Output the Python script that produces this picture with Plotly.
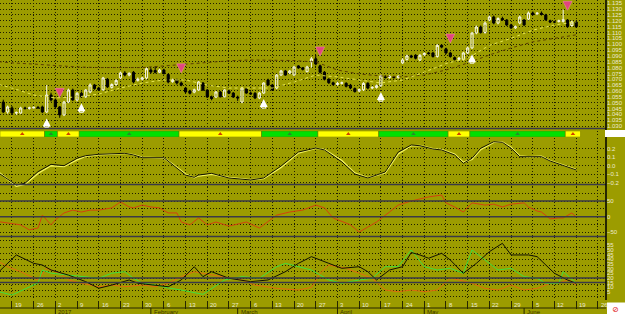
import pandas as pd
import plotly.graph_objects as go

# ---------------- data ----------------
trade_days = pd.bdate_range("2016-12-14", "2017-06-30")
pos_of = {d.strftime("%Y-%m-%d"): i for i, d in enumerate(trade_days)}

candle_dates = [d.strftime("%Y-%m-%d") for d in pd.bdate_range("2016-12-15", "2017-06-19")]
opens = [1.0505, 1.0420, 1.0455, 1.0411, 1.0411, 1.0454, 1.0450, 1.0455, 1.0460, 1.0463,
         1.0420, 1.0565, 1.0523, 1.0463, 1.0395, 1.0505, 1.0608, 1.0523, 1.0580, 1.0550,
         1.0591, 1.0651, 1.0625, 1.0610, 1.0700, 1.0630, 1.0655, 1.0711, 1.0754, 1.0736,
         1.0760, 1.0690, 1.0700, 1.0711, 1.0779, 1.0775, 1.0760, 1.0779, 1.0740, 1.0680,
         1.0694, 1.0668, 1.0625, 1.0600, 1.0590, 1.0608, 1.0668, 1.0608, 1.0548, 1.0548,
         1.0591, 1.0550, 1.0600, 1.0582, 1.0548, 1.0505, 1.0617, 1.0582, 1.0580, 1.0540,
         1.0582, 1.0694, 1.0651, 1.0625, 1.0736, 1.0771, 1.0754, 1.0736, 1.0814, 1.0797,
         1.0765, 1.0848, 1.0875, 1.0815, 1.0760, 1.0700, 1.0670, 1.0655, 1.0665, 1.0665,
         1.0650, 1.0620, 1.0600, 1.0610, 1.0665, 1.0625, 1.0630, 1.0645, 1.0720, 1.0715,
         1.0720, 1.0715, 1.0840, 1.0870, 1.0900, 1.0905, 1.0865, 1.0910, 1.0925, 1.0925,
         1.0895, 1.0990, 1.0960, 1.0925, 1.0885, 1.0870, 1.0870, 1.0925, 1.0968, 1.1096,
         1.1147, 1.1100, 1.1207, 1.1233, 1.1181, 1.1220, 1.1207, 1.1165, 1.1140, 1.1181,
         1.1207, 1.1215, 1.1267, 1.1260, 1.1265, 1.1250, 1.1200, 1.1190, 1.1195, 1.1195,
         1.1207, 1.1160, 1.1190]
highs = [1.0525, 1.0475, 1.0470, 1.0425, 1.0465, 1.0465, 1.0465, 1.0465, 1.0470, 1.0475,
         1.0651, 1.0585, 1.0535, 1.0470, 1.0515, 1.0620, 1.0620, 1.0590, 1.0595, 1.0615,
         1.0665, 1.0660, 1.0635, 1.0720, 1.0710, 1.0665, 1.0700, 1.0765, 1.0770, 1.0760,
         1.0770, 1.0715, 1.0720, 1.0800, 1.0795, 1.0810, 1.0790, 1.0790, 1.0750, 1.0705,
         1.0705, 1.0680, 1.0635, 1.0610, 1.0620, 1.0685, 1.0675, 1.0615, 1.0560, 1.0600,
         1.0600, 1.0615, 1.0610, 1.0590, 1.0560, 1.0635, 1.0625, 1.0595, 1.0590, 1.0590,
         1.0675, 1.0705, 1.0660, 1.0745, 1.0780, 1.0780, 1.0780, 1.0815, 1.0820, 1.0805,
         1.0815, 1.0890, 1.0905, 1.0825, 1.0770, 1.0710, 1.0680, 1.0680, 1.0680, 1.0675,
         1.0660, 1.0630, 1.0620, 1.0675, 1.0675, 1.0640, 1.0655, 1.0740, 1.0735, 1.0735,
         1.0730, 1.0735, 1.0880, 1.0910, 1.0910, 1.0915, 1.0915, 1.0930, 1.0935, 1.0935,
         1.1000, 1.1000, 1.0970, 1.0935, 1.0895, 1.0890, 1.0935, 1.0980, 1.1105, 1.1160,
         1.1160, 1.1195, 1.1245, 1.1245, 1.1230, 1.1235, 1.1215, 1.1175, 1.1160, 1.1245,
         1.1215, 1.1280, 1.1280, 1.1275, 1.1280, 1.1260, 1.1210, 1.1200, 1.1210, 1.1295,
         1.1215, 1.1200, 1.1200]
lows = [1.0410, 1.0405, 1.0400, 1.0395, 1.0405, 1.0440, 1.0440, 1.0448, 1.0450, 1.0410,
        1.0410, 1.0510, 1.0455, 1.0370, 1.0385, 1.0495, 1.0515, 1.0510, 1.0540, 1.0540,
        1.0580, 1.0610, 1.0600, 1.0600, 1.0625, 1.0620, 1.0645, 1.0700, 1.0725, 1.0725,
        1.0665, 1.0680, 1.0690, 1.0700, 1.0750, 1.0750, 1.0750, 1.0740, 1.0665, 1.0670,
        1.0655, 1.0640, 1.0580, 1.0570, 1.0580, 1.0600, 1.0600, 1.0540, 1.0520, 1.0540,
        1.0545, 1.0545, 1.0575, 1.0540, 1.0515, 1.0495, 1.0575, 1.0565, 1.0530, 1.0530,
        1.0575, 1.0645, 1.0600, 1.0615, 1.0730, 1.0730, 1.0745, 1.0730, 1.0790, 1.0775,
        1.0760, 1.0800, 1.0820, 1.0750, 1.0690, 1.0660, 1.0645, 1.0645, 1.0655, 1.0630,
        1.0615, 1.0585, 1.0590, 1.0600, 1.0615, 1.0615, 1.0620, 1.0635, 1.0705, 1.0705,
        1.0705, 1.0705, 1.0830, 1.0860, 1.0880, 1.0870, 1.0855, 1.0900, 1.0910, 1.0885,
        1.0885, 1.0965, 1.0915, 1.0885, 1.0860, 1.0860, 1.0860, 1.0915, 1.0960, 1.1085,
        1.1090, 1.1090, 1.1195, 1.1170, 1.1170, 1.1200, 1.1155, 1.1130, 1.1130, 1.1170,
        1.1155, 1.1205, 1.1245, 1.1250, 1.1245, 1.1200, 1.1180, 1.1180, 1.1185, 1.1185,
        1.1140, 1.1150, 1.1140]
closes = [1.0420, 1.0463, 1.0411, 1.0415, 1.0454, 1.0450, 1.0455, 1.0460, 1.0455, 1.0420,
          1.0565, 1.0523, 1.0463, 1.0395, 1.0505, 1.0608, 1.0523, 1.0580, 1.0550, 1.0608,
          1.0651, 1.0620, 1.0610, 1.0711, 1.0635, 1.0655, 1.0690, 1.0754, 1.0736, 1.0750,
          1.0677, 1.0700, 1.0711, 1.0790, 1.0762, 1.0760, 1.0779, 1.0750, 1.0677, 1.0695,
          1.0668, 1.0650, 1.0591, 1.0580, 1.0610, 1.0677, 1.0608, 1.0548, 1.0535, 1.0591,
          1.0550, 1.0608, 1.0580, 1.0548, 1.0540, 1.0625, 1.0582, 1.0575, 1.0540, 1.0582,
          1.0668, 1.0651, 1.0608, 1.0736, 1.0771, 1.0736, 1.0770, 1.0805, 1.0797, 1.0785,
          1.0805, 1.0875, 1.0830, 1.0760, 1.0700, 1.0670, 1.0655, 1.0665, 1.0670, 1.0640,
          1.0625, 1.0595, 1.0610, 1.0665, 1.0625, 1.0630, 1.0645, 1.0730, 1.0715, 1.0725,
          1.0715, 1.0725, 1.0865, 1.0900, 1.0890, 1.0880, 1.0905, 1.0920, 1.0920, 1.0895,
          1.0990, 1.0975, 1.0925, 1.0895, 1.0870, 1.0880, 1.0925, 1.0968, 1.1096, 1.1147,
          1.1100, 1.1181, 1.1233, 1.1181, 1.1220, 1.1210, 1.1165, 1.1140, 1.1150, 1.1233,
          1.1165, 1.1267, 1.1255, 1.1265, 1.1255, 1.1210, 1.1190, 1.1190, 1.1200, 1.1210,
          1.1150, 1.1190, 1.1150]

# moving averages (read weekly)
ma_dates = ["2016-12-14", "2016-12-19", "2016-12-26", "2017-01-02", "2017-01-09", "2017-01-16",
            "2017-01-23", "2017-01-30", "2017-02-06", "2017-02-13", "2017-02-20", "2017-02-27",
            "2017-03-06", "2017-03-13", "2017-03-20", "2017-03-27", "2017-04-03", "2017-04-10",
            "2017-04-17", "2017-04-24", "2017-05-01", "2017-05-08", "2017-05-15", "2017-05-22",
            "2017-05-29", "2017-06-05", "2017-06-12", "2017-06-19"]
ma_fast = [1.0655, 1.0625, 1.0565, 1.0540, 1.0548, 1.0573, 1.0625, 1.0668, 1.0694, 1.0694,
           1.0650, 1.0625, 1.0625, 1.0625, 1.0677, 1.0736, 1.0720, 1.0694, 1.0668, 1.0694,
           1.0760, 1.0835, 1.0880, 1.0990, 1.1050, 1.1120, 1.1165, 1.1190]
ma_slow = [1.0850, 1.0840, 1.0830, 1.0815, 1.0805, 1.0800, 1.0797, 1.0800, 1.0814, 1.0830,
           1.0848, 1.0858, 1.0865, 1.0865, 1.0860, 1.0848, 1.0779, 1.0745, 1.0728, 1.0720,
           1.0736, 1.0779, 1.0839, 1.0908, 1.0968, 1.1020, 1.1053, 1.1080]

# signals
buy_dates = ["2016-12-29", "2017-01-10", "2017-03-09", "2017-04-17", "2017-05-16"]
sell_dates = ["2017-01-03", "2017-02-10", "2017-03-28", "2017-05-09", "2017-06-15"]

# oscillator panel
osc_dates = ["2016-12-14", "2016-12-20", "2016-12-22", "2016-12-27", "2016-12-30", "2017-01-04",
             "2017-01-09", "2017-01-11", "2017-01-16", "2017-01-24", "2017-01-26", "2017-01-30",
             "2017-02-06", "2017-02-08", "2017-02-13", "2017-02-15", "2017-02-16", "2017-02-21",
             "2017-02-27", "2017-03-06", "2017-03-09", "2017-03-15", "2017-03-21", "2017-03-27",
             "2017-03-29", "2017-04-04", "2017-04-07", "2017-04-12", "2017-04-18", "2017-04-21",
             "2017-04-26", "2017-04-28", "2017-05-03", "2017-05-05", "2017-05-10", "2017-05-12",
             "2017-05-16", "2017-05-18", "2017-05-23", "2017-05-25", "2017-05-29", "2017-05-31",
             "2017-06-02", "2017-06-07", "2017-06-09", "2017-06-14", "2017-06-19"]
osc_main = [-0.09, -0.227, -0.207, -0.07, 0.016, 0.0, 0.087, 0.118, 0.134, 0.146, 0.126, 0.094,
            0.094, 0.008, -0.11, -0.137, -0.11, -0.09, -0.145, -0.168, -0.145, -0.004, 0.161,
            0.208, 0.185, 0.044, -0.098, -0.145, -0.074, 0.16, 0.244, 0.235, 0.196, 0.185,
            0.126, 0.028, 0.087, 0.205, 0.282, 0.275, 0.205, 0.106, 0.106, 0.106, 0.055, 0.0,
            -0.05]
osc_signal = [-0.08, -0.24, -0.22, -0.09, 0.0, -0.01, 0.07, 0.11, 0.13, 0.145, 0.13, 0.10,
              0.09, 0.02, -0.10, -0.14, -0.12, -0.10, -0.14, -0.165, -0.15, -0.02, 0.15,
              0.205, 0.19, 0.06, -0.085, -0.14, -0.085, 0.14, 0.235, 0.238, 0.20, 0.19,
              0.135, 0.04, 0.075, 0.19, 0.275, 0.28, 0.215, 0.115, 0.105, 0.11, 0.06, 0.005,
              -0.045]

# momentum panel
mom_dates = ["2016-12-14", "2016-12-16", "2016-12-21", "2016-12-23", "2016-12-27", "2016-12-28",
             "2016-12-30", "2017-01-02", "2017-01-04", "2017-01-06", "2017-01-10", "2017-01-12",
             "2017-01-16", "2017-01-19", "2017-01-20", "2017-01-23", "2017-01-25", "2017-01-26",
             "2017-01-30", "2017-02-01", "2017-02-03", "2017-02-07", "2017-02-09", "2017-02-10",
             "2017-02-14", "2017-02-16", "2017-02-20", "2017-02-22", "2017-02-27", "2017-03-03",
             "2017-03-08", "2017-03-14", "2017-03-17", "2017-03-22", "2017-03-27", "2017-03-29",
             "2017-03-31", "2017-04-06", "2017-04-10", "2017-04-14", "2017-04-19", "2017-04-21",
             "2017-04-26", "2017-04-28", "2017-05-02", "2017-05-05", "2017-05-08", "2017-05-10",
             "2017-05-12", "2017-05-16", "2017-05-19", "2017-05-23", "2017-05-25", "2017-05-29",
             "2017-06-01", "2017-06-02", "2017-06-06", "2017-06-07", "2017-06-09", "2017-06-13",
             "2017-06-14", "2017-06-16", "2017-06-19"]
mom_vals = [-16, -20, -26, -42, -36, 5, -26, -10, 12, 21, 15, 21, 21, 28, 37, 47, 31, 28, 37,
            31, 28, 12, 12, -17, -26, -4, -26, -17, -30, -17, -36, 5, 15, 21, 37, 28, -4, -26,
            -49, -17, 15, 37, 50, 56, 63, 69, 44, 31, 15, 44, 37, 40, 31, 40, 44, 31, 18, 15,
            -7, -4, -4, 12, -1]
mom_ticks = [50, 0, -50]
mom_levels = [50, 0]

# directional panel
adx_dates = ["2016-12-14", "2016-12-20", "2016-12-26", "2016-12-28", "2016-12-30", "2017-01-05",
             "2017-01-11", "2017-01-16", "2017-01-19", "2017-01-25", "2017-01-27", "2017-02-02",
             "2017-02-07", "2017-02-10", "2017-02-15", "2017-02-17", "2017-02-21", "2017-02-27",
             "2017-03-06", "2017-03-10", "2017-03-16", "2017-03-21", "2017-03-24", "2017-03-30",
             "2017-04-04", "2017-04-10", "2017-04-12", "2017-04-14", "2017-04-19", "2017-04-24",
             "2017-04-26", "2017-04-28", "2017-05-02", "2017-05-05", "2017-05-09", "2017-05-12",
             "2017-05-17", "2017-05-22", "2017-05-25", "2017-05-29", "2017-06-02", "2017-06-06",
             "2017-06-12", "2017-06-15", "2017-06-19"]
adx_vals = [26.6, 44.4, 35.5, 33.7, 28.4, 23, 16, 9, 12.4, 17.8, 14.3, 12.4, 10.6, 17.8, 31.9,
            21.3, 26.6, 19.6, 16, 17.8, 26.6, 35.5, 42.6, 35.5, 30.2, 31.9, 26.6, 17.8, 28.4,
            31.9, 47, 44.4, 40.9, 46.2, 39, 24.9, 35.5, 47.9, 56.8, 44.4, 44.4, 42.6, 24.9,
            17.8, 14.3]
pdi_dates = ["2016-12-14", "2016-12-19", "2016-12-27", "2016-12-28", "2016-12-30", "2017-01-05",
             "2017-01-10", "2017-01-16", "2017-01-19", "2017-01-24", "2017-01-26", "2017-01-30",
             "2017-02-02", "2017-02-07", "2017-02-10", "2017-02-15", "2017-02-17", "2017-02-24",
             "2017-03-02", "2017-03-08", "2017-03-14", "2017-03-16", "2017-03-21", "2017-03-24",
             "2017-03-30", "2017-04-04", "2017-04-10", "2017-04-13", "2017-04-18", "2017-04-21",
             "2017-04-26", "2017-05-01", "2017-05-04", "2017-05-09", "2017-05-12", "2017-05-16",
             "2017-05-19", "2017-05-24", "2017-05-29", "2017-06-01", "2017-06-06", "2017-06-08",
             "2017-06-13", "2017-06-14", "2017-06-19"]
pdi_vals = [5.3, 1.8, 14.6, 28.4, 25, 23, 21.3, 19.6, 25, 26.6, 19.6, 14.6, 12.4, 9.3, 7.1, 3.9,
            2.5, 17.8, 21.3, 19.6, 31.9, 35.5, 31.9, 28.4, 17.8, 14.3, 17.8, 19.6, 31.9, 31.9,
            49.7, 31.9, 28.4, 30.2, 24.9, 49.7, 39, 28.4, 30.2, 21.3, 19.6, 14.3, 14.3, 26.6,
            14.3]
mdi_dates = ["2016-12-14", "2016-12-16", "2016-12-21", "2016-12-27", "2016-12-29", "2017-01-03",
             "2017-01-05", "2017-01-10", "2017-01-16", "2017-01-19", "2017-01-24", "2017-01-30",
             "2017-02-02", "2017-02-07", "2017-02-10", "2017-02-15", "2017-02-20", "2017-02-24",
             "2017-03-02", "2017-03-07", "2017-03-14", "2017-03-21", "2017-03-24", "2017-03-28",
             "2017-03-30", "2017-04-03", "2017-04-05", "2017-04-10", "2017-04-13", "2017-04-18",
             "2017-04-21", "2017-04-26", "2017-05-01", "2017-05-04", "2017-05-09", "2017-05-11",
             "2017-05-16", "2017-05-19", "2017-05-24", "2017-05-29", "2017-06-01", "2017-06-06",
             "2017-06-09", "2017-06-13", "2017-06-15", "2017-06-19"]
mdi_vals = [37.2, 31.9, 26.6, 17.8, 30.2, 25, 17.8, 14.3, 10.6, 12.4, 10.6, 12.4, 10.6, 14.3,
            21.3, 26.6, 24, 21.3, 17.8, 12.4, 8.9, 7.1, 10, 25, 33.7, 31.9, 30.2, 25, 19.6, 7.1,
            5.3, 7.1, 5.3, 7.1, 19.6, 17.8, 14.3, 8.9, 7.1, 12.4, 7.1, 8.9, 14.3, 14.3, 17.8,
            12.4]
dmi_levels = [20, 15]

month_names = {1: "2017", 2: "February", 3: "March", 4: "April", 5: "May", 6: "June"}

# ---------------- styling ----------------
BG = "#9c9c00"
GRID = "#1e1e00"
DOT = "1px,2px"
LEVEL = "#3a3a46"
LABEL = "#ecead0"
FONT = "Liberation Sans"
W, H, R = 625, 314, 19
PW = W - R


def py(px):          # paper y from pixel row
    return 1 - px / H


def pxx(px):         # paper x from pixel column
    return px / PW


def P(ds):
    return [pos_of[d] for d in ds]


X0, X1 = 0.24, 139.87
cx = P(candle_dates)

fig = go.Figure()

# price panel
fig.add_trace(go.Scatter(x=P(ma_dates), y=ma_slow, mode="lines", yaxis="y",
                         line=dict(color="#5a3c00", width=1, dash="dot"), hoverinfo="skip"))
fig.add_trace(go.Scatter(x=P(ma_dates), y=ma_fast, mode="lines", yaxis="y",
                         line=dict(color="#e4e450", width=1, dash="dot"), hoverinfo="skip"))
fig.add_trace(go.Candlestick(x=cx, open=opens, high=highs, low=lows, close=closes,
                             xaxis="x", yaxis="y", whiskerwidth=0,
                             increasing=dict(line=dict(color="#f6f6e6", width=1),
                                             fillcolor="rgba(0,0,0,0)"),
                             decreasing=dict(line=dict(color="#000000", width=1),
                                             fillcolor="#000000"),
                             hoverinfo="skip"))
idx = {d: i for i, d in enumerate(candle_dates)}
fig.add_trace(go.Scatter(x=P(sell_dates), y=[highs[idx[d]] + 0.0075 for d in sell_dates],
                         mode="markers", yaxis="y",
                         marker=dict(symbol="arrow-down", size=9, color="#e2457e",
                                     line=dict(color="#f08cb0", width=0.5)), hoverinfo="skip"))
fig.add_trace(go.Scatter(x=P(buy_dates), y=[lows[idx[d]] - 0.0045 for d in buy_dates],
                         mode="markers", yaxis="y",
                         marker=dict(symbol="arrow-up", size=8, color="#ffffff"), hoverinfo="skip"))
fig.add_trace(go.Scatter(x=P(buy_dates), y=[lows[idx[d]] - 0.0105 for d in buy_dates],
                         mode="markers", yaxis="y",
                         marker=dict(symbol="square-open", size=4, color="#ffffff",
                                     line=dict(width=1)), hoverinfo="skip"))

# trend band (from signals)
events = sorted([(pos_of[d], "buy") for d in buy_dates] + [(pos_of[d], "sell") for d in sell_dates])
seg_start, seg_state = X0, "sell"
segs = []
for p, s in events:
    segs.append((seg_start, p - 0.5, seg_state))
    seg_start, seg_state = p - 0.5, s
segs.append((seg_start, cx[-1] + 1.0, seg_state))
fig.add_trace(go.Bar(x=[(a + b) / 2 for a, b, s in segs], y=[1] * len(segs), base=0,
                     width=[b - a for a, b, s in segs], yaxis="y5",
                     marker=dict(color=["#00e000" if s == "buy" else "#ffff00" for a, b, s in segs],
                                 line=dict(color="#707000", width=0.5)), hoverinfo="skip"))
fig.add_trace(go.Scatter(x=[(a + b) / 2 for a, b, s in segs], y=[0.5] * len(segs), yaxis="y5",
                         mode="markers",
                         marker=dict(symbol="triangle-up", size=4,
                                     color=["#2a8a2a" if s == "buy" else "#d04000" for a, b, s in segs]),
                         hoverinfo="skip"))

# oscillator
fig.add_trace(go.Scatter(x=P(osc_dates), y=osc_signal, mode="lines", yaxis="y2",
                         line=dict(color="#f2f25a", width=1.5), hoverinfo="skip"))
fig.add_trace(go.Scatter(x=P(osc_dates), y=osc_main, mode="lines", yaxis="y2",
                         line=dict(color="#101000", width=1), hoverinfo="skip"))
# momentum
fig.add_trace(go.Scatter(x=P(mom_dates), y=mom_vals, mode="lines", yaxis="y3",
                         line=dict(color="#d2420e", width=1), hoverinfo="skip"))
# directional
fig.add_trace(go.Scatter(x=P(mdi_dates), y=mdi_vals, mode="lines", yaxis="y4",
                         line=dict(color="#e06a10", width=1), hoverinfo="skip"))
fig.add_trace(go.Scatter(x=P(pdi_dates), y=pdi_vals, mode="lines", yaxis="y4",
                         line=dict(color="#3ee03e", width=1), hoverinfo="skip"))
fig.add_trace(go.Scatter(x=P(adx_dates), y=adx_vals, mode="lines", yaxis="y4",
                         line=dict(color="#101000", width=1), hoverinfo="skip"))
fig.add_trace(go.Scatter(x=[], y=[], yaxis="y6", hoverinfo="skip"))

mondays = [i for i, d in enumerate(trade_days)
           if d.weekday() == 0 and pd.Timestamp("2016-12-19") <= d <= pd.Timestamp("2017-06-26")]
month_starts = []
seen = set()
for i, d in enumerate(trade_days):
    if d.year == 2017 and d.month <= 6 and d.month not in seen:
        seen.add(d.month)
        month_starts.append((i, d.month))

tf = dict(family=FONT, size=6, color=LABEL)
common = dict(zeroline=False, showline=False, automargin=False, ticks="", side="right",
              anchor="x", tickfont=tf, fixedrange=True)

layout = dict(
    width=W, height=H, margin=dict(l=0, r=R, t=0, b=0),
    paper_bgcolor=BG, plot_bgcolor=BG, showlegend=False,
    xaxis=dict(range=[X0, X1], domain=[0, 1], anchor="y4", tickmode="array", tickvals=mondays,
               ticks="outside", ticklen=8, tickwidth=1, tickcolor="#262600",
               showticklabels=False, showgrid=True, gridcolor=GRID, griddash=DOT, gridwidth=1,
               zeroline=False, showline=False, rangeslider=dict(visible=False), fixedrange=True),
    yaxis=dict(domain=[py(128.5), 1], range=[1.02786, 1.13782], tick0=1.03, dtick=0.005,
               tickformat=".3f", showgrid=True, gridcolor=GRID, griddash=DOT, **common),
    yaxis5=dict(domain=[py(137), py(131)], range=[0, 1], visible=False, anchor="x",
                fixedrange=True),
    yaxis2=dict(domain=[py(187), py(138)], range=[-0.2506, 0.3259], tickmode="array",
                tickvals=[-0.2, -0.1, 0.0, 0.1, 0.2], tickformat=".1f",
                showgrid=True, gridcolor=GRID, griddash=DOT, **common),
    yaxis3=dict(domain=[py(236.5), py(187)], range=[-63.1, 94.6], tickmode="array",
                tickvals=mom_ticks, showgrid=False,
                minor=dict(dtick=25, tick0=0, showgrid=True, gridcolor=GRID, griddash=DOT,
                           ticks=""), **common),
    yaxis4=dict(domain=[py(300), py(237)], range=[-3.5, 63.5], tickmode="array",
                tickvals=[5, 10, 15, 20, 25, 30, 35, 40, 45, 50, 55], showgrid=False, **common),
    yaxis6=dict(overlaying="y4", range=[-3.5, 63.5], dtick=6.6, tick0=0, showgrid=True,
                gridcolor=GRID, griddash=DOT, showticklabels=False, zeroline=False,
                ticks="", side="left", anchor="x", fixedrange=True),
)
fig.update_layout(**layout)

shapes = []
# level lines
for lv in mom_levels:
    shapes.append(dict(type="line", xref="paper", yref="y3", x0=0, x1=1, y0=lv, y1=lv,
                       line=dict(color=LEVEL, width=1.5)))
for lv in dmi_levels:
    shapes.append(dict(type="line", xref="paper", yref="y4", x0=0, x1=1, y0=lv, y1=lv,
                       line=dict(color=LEVEL, width=1.5)))
# panel separators
for yy in [128.5, 184.5, 236.5]:
    shapes.append(dict(type="line", xref="paper", yref="paper", x0=0, x1=1, y0=py(yy), y1=py(yy),
                       line=dict(color=LEVEL, width=1.5)))
shapes.append(dict(type="line", xref="paper", yref="paper", x0=0, x1=1, y0=py(308), y1=py(308),
                   line=dict(color="#262600", width=1)))
# right axis line
shapes.append(dict(type="line", xref="paper", yref="paper", x0=1, x1=1, y0=py(300), y1=1,
                   line=dict(color="#000000", width=1.5)))
# month separators
for p, m in month_starts:
    shapes.append(dict(type="line", xref="x", yref="paper", x0=p, x1=p, y0=py(308), y1=0,
                       line=dict(color="#262600", width=1)))
# white boxes in the label column
shapes.append(dict(type="rect", xref="paper", yref="paper", x0=pxx(605), x1=pxx(625),
                   y0=py(137), y1=py(130), fillcolor="#ffffff", line=dict(width=0)))
shapes.append(dict(type="rect", xref="paper", yref="paper", x0=pxx(607), x1=pxx(625),
                   y0=0, y1=py(302.5), fillcolor="#ffffff", line=dict(width=0)))
fig.update_layout(shapes=shapes)

ann = []
for p in mondays:
    ann.append(dict(x=p, y=py(304.5), xref="x", yref="paper", text=str(trade_days[p].day),
                    xanchor="left", yanchor="middle", xshift=1, showarrow=False,
                    font=dict(family=FONT, size=6, color=LABEL)))
for p, m in month_starts:
    ann.append(dict(x=p, y=py(311.5), xref="x", yref="paper", text=month_names[m],
                    xanchor="left", yanchor="middle", xshift=1, showarrow=False,
                    font=dict(family=FONT, size=6, color="#3a3400")))
ann.append(dict(x=pxx(615), y=py(309), xref="paper", yref="paper", text="⊘", showarrow=False,
                xanchor="center", yanchor="middle",
                font=dict(family="DejaVu Sans", size=8, color="#e02020")))
fig.update_layout(annotations=ann)

fig.write_html("out.html")
